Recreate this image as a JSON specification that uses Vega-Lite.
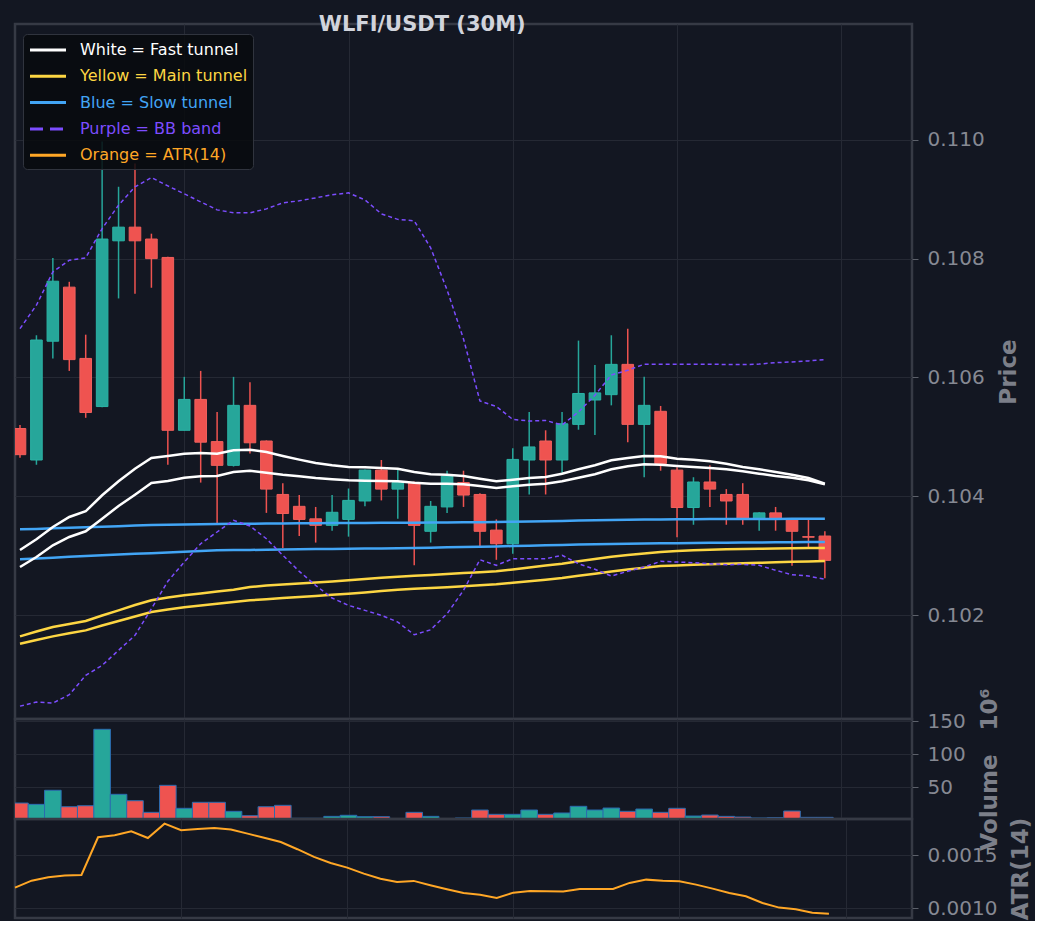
{
  "$schema": "https://vega.github.io/schema/vega-lite/v6.json",
  "background": "#131722",
  "padding": {"left": 9, "top": 13, "right": 0, "bottom": 0},
  "bounds": "flush",
  "spacing": 0,
  "title": {
    "text": "WLFI/USDT (30M)",
    "anchor": "start",
    "dx": 309,
    "offset": -12,
    "fontSize": 21,
    "fontWeight": "bold",
    "color": "#d1d4dc",
    "font": "DejaVu Sans"
  },
  "config": {
    "font": "DejaVu Sans",
    "view": {"stroke": "#363a45", "strokeWidth": 2.5},
    "axis": {
      "gridColor": "#252934",
      "gridWidth": 1,
      "domain": false,
      "labelColor": "#868993",
      "labelFontSize": 20,
      "labelFont": "DejaVu Sans",
      "tickColor": "#5d616b",
      "tickSize": 6,
      "labelPadding": 9,
      "titleColor": "#7c7f89",
      "titleFontSize": 23,
      "titleFontWeight": "bold",
      "titleFont": "DejaVu Sans",
      "titlePadding": 13
    },
    "axisX": {"ticks": false, "labels": false, "grid": true, "title": null}
  },
  "datasets": {
    "k": [
      {"i":0,"o":0.10514,"h":0.1052,"l":0.10465,"c":0.1047,"v":26.2,"atr":0.001194,"wu":0.103095,"wl":0.102809,"yu":0.101641,"yl":0.101517,"bu":0.103443,"bl":0.102938,"bbu":0.106822,"bbl":0.100467},
      {"i":1,"o":0.10461,"h":0.10671,"l":0.10453,"c":0.10663,"v":24.2,"atr":0.00126,"wu":0.103275,"wl":0.102977,"yu":0.101722,"yl":0.101579,"bu":0.10345,"bl":0.102952,"bbu":0.107216,"bbl":0.100535},
      {"i":2,"o":0.10661,"h":0.10801,"l":0.10632,"c":0.10762,"v":45.5,"atr":0.001292,"wu":0.103482,"wl":0.103174,"yu":0.101798,"yl":0.101641,"bu":0.10346,"bl":0.102966,"bbu":0.107777,"bbl":0.100518},
      {"i":3,"o":0.10752,"h":0.10761,"l":0.10611,"c":0.1063,"v":20.6,"atr":0.001308,"wu":0.103651,"wl":0.103314,"yu":0.101848,"yl":0.101692,"bu":0.103468,"bl":0.10298,"bbu":0.107974,"bbl":0.100658},
      {"i":4,"o":0.10632,"h":0.10672,"l":0.10532,"c":0.10541,"v":22.1,"atr":0.001314,"wu":0.103747,"wl":0.10341,"yu":0.101899,"yl":0.101742,"bu":0.103476,"bl":0.102994,"bbu":0.108013,"bbl":0.100984},
      {"i":5,"o":0.10551,"h":0.10997,"l":0.1055,"c":0.10833,"v":137.9,"atr":0.00167,"wu":0.104016,"wl":0.103622,"yu":0.101992,"yl":0.101823,"bu":0.103486,"bl":0.103006,"bbu":0.108506,"bbl":0.101153},
      {"i":6,"o":0.1083,"h":0.10921,"l":0.10733,"c":0.10853,"v":39.4,"atr":0.001689,"wu":0.104252,"wl":0.103836,"yu":0.102079,"yl":0.101899,"bu":0.103496,"bl":0.103018,"bbu":0.1089,"bbl":0.101406},
      {"i":7,"o":0.10853,"h":0.1096,"l":0.10741,"c":0.1083,"v":29.7,"atr":0.001726,"wu":0.104464,"wl":0.104026,"yu":0.102168,"yl":0.101975,"bu":0.103506,"bl":0.10303,"bbu":0.109208,"bbl":0.101658},
      {"i":8,"o":0.10833,"h":0.10842,"l":0.10751,"c":0.108,"v":12.1,"atr":0.001663,"wu":0.104644,"wl":0.104223,"yu":0.102248,"yl":0.102051,"bu":0.103516,"bl":0.103042,"bbu":0.109365,"bbl":0.102106},
      {"i":9,"o":0.10802,"h":0.10803,"l":0.10453,"c":0.10511,"v":53.0,"atr":0.001798,"wu":0.104678,"wl":0.104257,"yu":0.102295,"yl":0.102093,"bu":0.10352,"bl":0.103054,"bbu":0.109225,"bbl":0.102568},
      {"i":10,"o":0.10511,"h":0.10601,"l":0.10511,"c":0.10563,"v":18.2,"atr":0.001736,"wu":0.104717,"wl":0.104312,"yu":0.102332,"yl":0.10213,"bu":0.103525,"bl":0.103066,"bbu":0.109091,"bbl":0.102893},
      {"i":11,"o":0.10563,"h":0.10611,"l":0.10423,"c":0.10491,"v":27.3,"atr":0.001748,"wu":0.104728,"wl":0.104336,"yu":0.102362,"yl":0.10216,"bu":0.10353,"bl":0.103078,"bbu":0.108956,"bbl":0.103201},
      {"i":12,"o":0.10492,"h":0.10542,"l":0.10352,"c":0.10452,"v":27.3,"atr":0.001758,"wu":0.104717,"wl":0.104341,"yu":0.102396,"yl":0.10219,"bu":0.103533,"bl":0.10309,"bbu":0.108821,"bbl":0.103398},
      {"i":13,"o":0.10452,"h":0.10601,"l":0.1045,"c":0.10553,"v":13.6,"atr":0.001742,"wu":0.104774,"wl":0.104409,"yu":0.102426,"yl":0.102219,"bu":0.103536,"bl":0.103093,"bbu":0.108771,"bbl":0.103595},
      {"i":14,"o":0.10553,"h":0.10592,"l":0.10472,"c":0.1049,"v":7.0,"atr":0.001704,"wu":0.104784,"wl":0.10443,"yu":0.102472,"yl":0.102248,"bu":0.103538,"bl":0.103096,"bbu":0.108771,"bbl":0.103499},
      {"i":15,"o":0.10493,"h":0.10494,"l":0.10372,"c":0.10412,"v":20.6,"atr":0.001666,"wu":0.104745,"wl":0.104397,"yu":0.102497,"yl":0.102266,"bu":0.10354,"bl":0.1031,"bbu":0.108838,"bbl":0.103285},
      {"i":16,"o":0.10403,"h":0.10422,"l":0.10313,"c":0.10371,"v":22.7,"atr":0.001625,"wu":0.104678,"wl":0.104363,"yu":0.102514,"yl":0.102286,"bu":0.103542,"bl":0.103103,"bbu":0.108939,"bbl":0.103006},
      {"i":17,"o":0.10383,"h":0.10402,"l":0.10333,"c":0.10361,"v":3.0,"atr":0.001557,"wu":0.104616,"wl":0.104336,"yu":0.102531,"yl":0.102303,"bu":0.103544,"bl":0.103106,"bbu":0.108973,"bbl":0.102736},
      {"i":18,"o":0.10362,"h":0.10382,"l":0.10322,"c":0.10351,"v":3.0,"atr":0.001484,"wu":0.10456,"wl":0.104307,"yu":0.102547,"yl":0.10232,"bu":0.103546,"bl":0.10311,"bbu":0.109023,"bbl":0.1025},
      {"i":19,"o":0.10351,"h":0.10402,"l":0.10342,"c":0.10373,"v":6.0,"atr":0.001427,"wu":0.104521,"wl":0.104285,"yu":0.102564,"yl":0.10234,"bu":0.103548,"bl":0.103113,"bbu":0.109074,"bbl":0.102286},
      {"i":20,"o":0.10361,"h":0.10413,"l":0.10332,"c":0.10393,"v":7.6,"atr":0.001383,"wu":0.104493,"wl":0.104269,"yu":0.102584,"yl":0.102359,"bu":0.10355,"bl":0.103116,"bbu":0.109107,"bbl":0.102163},
      {"i":21,"o":0.10392,"h":0.10445,"l":0.10383,"c":0.10444,"v":5.5,"atr":0.001327,"wu":0.104488,"wl":0.104262,"yu":0.102606,"yl":0.102381,"bu":0.103551,"bl":0.103119,"bbu":0.108989,"bbl":0.102079},
      {"i":22,"o":0.10444,"h":0.10461,"l":0.10393,"c":0.10412,"v":5.5,"atr":0.001279,"wu":0.104476,"wl":0.104257,"yu":0.102627,"yl":0.102404,"bu":0.103552,"bl":0.103122,"bbu":0.108754,"bbl":0.101995},
      {"i":23,"o":0.10412,"h":0.10444,"l":0.10362,"c":0.10423,"v":2.5,"atr":0.001248,"wu":0.104464,"wl":0.104252,"yu":0.102643,"yl":0.102424,"bu":0.103553,"bl":0.103125,"bbu":0.108661,"bbl":0.101882},
      {"i":24,"o":0.10423,"h":0.10425,"l":0.10284,"c":0.10351,"v":12.1,"atr":0.001258,"wu":0.104409,"wl":0.104228,"yu":0.10266,"yl":0.102443,"bu":0.103555,"bl":0.103128,"bbu":0.108636,"bbl":0.101668},
      {"i":25,"o":0.10341,"h":0.10392,"l":0.10322,"c":0.10383,"v":6.0,"atr":0.001217,"wu":0.10437,"wl":0.104211,"yu":0.102674,"yl":0.102455,"bu":0.103557,"bl":0.103134,"bbu":0.108181,"bbl":0.101752},
      {"i":26,"o":0.10382,"h":0.10443,"l":0.10372,"c":0.10434,"v":2.5,"atr":0.001179,"wu":0.104363,"wl":0.104211,"yu":0.102691,"yl":0.102468,"bu":0.103559,"bl":0.10314,"bbu":0.107474,"bbl":0.102022},
      {"i":27,"o":0.10423,"h":0.10443,"l":0.10382,"c":0.10402,"v":3.5,"atr":0.001144,"wu":0.104341,"wl":0.104201,"yu":0.102707,"yl":0.102483,"bu":0.103561,"bl":0.103145,"bbu":0.106648,"bbl":0.102416},
      {"i":28,"o":0.10403,"h":0.10405,"l":0.10315,"c":0.10341,"v":15.6,"atr":0.001128,"wu":0.104296,"wl":0.104173,"yu":0.102719,"yl":0.1025,"bu":0.103564,"bl":0.10315,"bbu":0.105604,"bbl":0.102931},
      {"i":29,"o":0.10343,"h":0.10361,"l":0.10293,"c":0.1032,"v":9.1,"atr":0.001097,"wu":0.104252,"wl":0.104139,"yu":0.102736,"yl":0.102517,"bu":0.103567,"bl":0.103156,"bbu":0.105512,"bbl":0.102837},
      {"i":30,"o":0.1032,"h":0.10481,"l":0.10303,"c":0.10462,"v":9.1,"atr":0.001147,"wu":0.104279,"wl":0.104168,"yu":0.102766,"yl":0.102542,"bu":0.10357,"bl":0.103162,"bbu":0.105293,"bbl":0.102948},
      {"i":31,"o":0.10461,"h":0.10542,"l":0.10403,"c":0.10483,"v":15.6,"atr":0.001163,"wu":0.104307,"wl":0.104195,"yu":0.1028,"yl":0.102569,"bu":0.103575,"bl":0.103168,"bbu":0.105267,"bbl":0.102948},
      {"i":32,"o":0.10493,"h":0.10511,"l":0.10403,"c":0.10461,"v":9.1,"atr":0.00116,"wu":0.104324,"wl":0.104211,"yu":0.102834,"yl":0.102596,"bu":0.10358,"bl":0.103174,"bbu":0.105276,"bbl":0.102948},
      {"i":33,"o":0.10461,"h":0.10542,"l":0.10438,"c":0.10522,"v":11.1,"atr":0.001157,"wu":0.10438,"wl":0.104252,"yu":0.102864,"yl":0.102623,"bu":0.103585,"bl":0.10318,"bbu":0.1052,"bbl":0.103006},
      {"i":34,"o":0.10521,"h":0.10662,"l":0.10512,"c":0.10573,"v":21.2,"atr":0.001182,"wu":0.104454,"wl":0.104312,"yu":0.102904,"yl":0.10266,"bu":0.10359,"bl":0.103186,"bbu":0.105419,"bbl":0.102864},
      {"i":35,"o":0.10562,"h":0.10621,"l":0.10503,"c":0.10574,"v":15.6,"atr":0.001182,"wu":0.104521,"wl":0.10437,"yu":0.102943,"yl":0.102697,"bu":0.103595,"bl":0.103191,"bbu":0.1057,"bbl":0.10277},
      {"i":36,"o":0.10571,"h":0.10671,"l":0.10553,"c":0.10622,"v":18.6,"atr":0.001182,"wu":0.104606,"wl":0.104454,"yu":0.10298,"yl":0.102734,"bu":0.1036,"bl":0.103196,"bbu":0.106042,"bbl":0.102657},
      {"i":37,"o":0.10622,"h":0.10682,"l":0.10491,"c":0.10521,"v":13.6,"atr":0.001239,"wu":0.104644,"wl":0.104504,"yu":0.103011,"yl":0.102765,"bu":0.103605,"bl":0.103201,"bbu":0.106121,"bbl":0.102736},
      {"i":38,"o":0.10521,"h":0.10601,"l":0.10432,"c":0.10553,"v":17.1,"atr":0.00127,"wu":0.104678,"wl":0.104538,"yu":0.103036,"yl":0.102795,"bu":0.103608,"bl":0.103204,"bbu":0.106222,"bbl":0.102809},
      {"i":39,"o":0.10543,"h":0.10552,"l":0.10443,"c":0.10455,"v":12.1,"atr":0.00126,"wu":0.104673,"wl":0.104532,"yu":0.103061,"yl":0.102825,"bu":0.10361,"bl":0.103207,"bbu":0.106222,"bbl":0.102904},
      {"i":40,"o":0.10444,"h":0.10449,"l":0.10331,"c":0.10381,"v":18.2,"atr":0.001255,"wu":0.104632,"wl":0.10451,"yu":0.103078,"yl":0.102835,"bu":0.103612,"bl":0.10321,"bbu":0.106222,"bbl":0.102893},
      {"i":41,"o":0.10381,"h":0.10432,"l":0.10352,"c":0.10424,"v":6.5,"atr":0.001223,"wu":0.104616,"wl":0.104493,"yu":0.10309,"yl":0.102846,"bu":0.103614,"bl":0.103212,"bbu":0.106222,"bbl":0.102881},
      {"i":42,"o":0.10424,"h":0.10452,"l":0.10382,"c":0.10412,"v":8.0,"atr":0.001185,"wu":0.104589,"wl":0.104476,"yu":0.103098,"yl":0.102856,"bu":0.103615,"bl":0.103215,"bbu":0.106222,"bbl":0.102864},
      {"i":43,"o":0.10403,"h":0.10412,"l":0.10352,"c":0.10392,"v":6.0,"atr":0.001144,"wu":0.104548,"wl":0.104454,"yu":0.103107,"yl":0.102864,"bu":0.103616,"bl":0.103218,"bbu":0.106219,"bbl":0.102847},
      {"i":44,"o":0.10403,"h":0.10422,"l":0.10352,"c":0.10362,"v":5.0,"atr":0.001113,"wu":0.104493,"wl":0.10442,"yu":0.103112,"yl":0.102872,"bu":0.103617,"bl":0.10322,"bbu":0.106216,"bbl":0.102854},
      {"i":45,"o":0.10362,"h":0.10373,"l":0.10342,"c":0.10372,"v":3.5,"atr":0.00105,"wu":0.104454,"wl":0.10438,"yu":0.103117,"yl":0.102879,"bu":0.103618,"bl":0.103222,"bbu":0.106225,"bbl":0.102837},
      {"i":46,"o":0.10372,"h":0.10382,"l":0.10342,"c":0.10362,"v":4.0,"atr":0.001006,"wu":0.104409,"wl":0.104341,"yu":0.10312,"yl":0.102888,"bu":0.103619,"bl":0.103224,"bbu":0.106249,"bbl":0.102753},
      {"i":47,"o":0.10362,"h":0.10363,"l":0.10283,"c":0.10341,"v":14.1,"atr":0.000991,"wu":0.104363,"wl":0.104312,"yu":0.103123,"yl":0.102896,"bu":0.10362,"bl":0.103226,"bbu":0.106261,"bbl":0.102679},
      {"i":48,"o":0.10332,"h":0.1036,"l":0.10313,"c":0.10331,"v":4.5,"atr":0.000958,"wu":0.104307,"wl":0.104269,"yu":0.103127,"yl":0.102903,"bu":0.103621,"bl":0.103228,"bbu":0.106278,"bbl":0.102657},
      {"i":49,"o":0.10333,"h":0.10341,"l":0.10262,"c":0.10292,"v":4.5,"atr":0.000949,"wu":0.104211,"wl":0.104201,"yu":0.103128,"yl":0.10291,"bu":0.103622,"bl":0.10323,"bbu":0.1063,"bbl":0.102601}
    ]
  },
  "vconcat": [
    {
      "width": 897,
      "height": 695,
      "data": {"name": "k"},
      "encoding": {
        "x": {
          "field": "i",
          "type": "quantitative",
          "scale": {"domain": [0, 54], "nice": false, "zero": false},
          "axis": {"values": [10, 20, 30, 40, 50]}
        }
      },
      "layer": [
        {
          "mark": {"type": "rule", "strokeWidth": 1.5, "clip": true},
          "encoding": {
            "y": {
              "field": "l",
              "type": "quantitative",
              "scale": {"domain": [0.10025, 0.11195], "nice": false, "zero": false},
              "axis": {
                "orient": "right",
                "values": [0.102, 0.104, 0.106, 0.108, 0.110],
                "format": ".3f",
                "title": "Price",
                "titleAngle": 270,
                "titleBaseline": "top"
              }
            },
            "y2": {"field": "h"},
            "color": {"condition": {"test": "datum.c >= datum.o", "value": "#26a69a"}, "value": "#ef5350"}
          }
        },
        {
          "mark": {"type": "bar", "size": 11.6, "strokeWidth": 1, "clip": true},
          "encoding": {
            "y": {"field": "o", "type": "quantitative"},
            "y2": {"field": "c"},
            "color": {"condition": {"test": "datum.c >= datum.o", "value": "#26a69a"}, "value": "#ef5350"},
            "stroke": {"condition": {"test": "datum.c >= datum.o", "value": "#2bb3a5"}, "value": "#f0605d"}
          }
        },
        {
          "transform": [{"fold": ["bu", "bl"], "as": ["k", "p"]}],
          "mark": {"type": "line", "strokeWidth": 2.5},
          "encoding": {
            "y": {"field": "p", "type": "quantitative"},
            "detail": {"field": "k"},
            "color": {"datum": "Blue = Slow tunnel", "type": "nominal"}
          }
        },
        {
          "transform": [{"fold": ["yu", "yl"], "as": ["k", "p"]}],
          "mark": {"type": "line", "strokeWidth": 2.5},
          "encoding": {
            "y": {"field": "p", "type": "quantitative"},
            "detail": {"field": "k"},
            "color": {"datum": "Yellow = Main tunnel", "type": "nominal"}
          }
        },
        {
          "transform": [{"fold": ["wu", "wl"], "as": ["k", "p"]}],
          "mark": {"type": "line", "strokeWidth": 2.5},
          "encoding": {
            "y": {"field": "p", "type": "quantitative"},
            "detail": {"field": "k"},
            "color": {
              "datum": "White = Fast tunnel",
              "type": "nominal",
              "scale": {
                "domain": ["White = Fast tunnel", "Yellow = Main tunnel", "Blue = Slow tunnel", "Purple = BB band", "Orange = ATR(14)"],
                "range": ["#ffffff", "#fdd643", "#42a5f5", "#7c4dff", "#ffa726"]
              },
              "legend": {
                "title": null,
                "orient": "none",
                "legendX": 8,
                "legendY": 10,
                "fillColor": "rgba(8,10,14,0.85)",
                "strokeColor": "#30343e",
                "cornerRadius": 4,
                "padding": 5.5,
                "rowPadding": 7.3,
                "symbolType": "M-1,0H3",
                "symbolSize": 324,
                "symbolStrokeWidth": 3,
                "labelFontSize": 16,
                "labelFont": "DejaVu Sans",
                "labelOffset": 30.5,
                "labelLimit": 300,
                "encode": {
                  "labels": {"update": {"fill": {"scale": "color", "field": "value"}}},
                  "symbols": {"update": {"strokeDash": {"signal": "datum.value === 'Purple = BB band' ? [13, 7] : [1, 0]"}}}
                }
              }
            }
          }
        },
        {
          "transform": [{"fold": ["bbu", "bbl"], "as": ["k", "p"]}],
          "mark": {"type": "line", "strokeWidth": 1.5, "strokeDash": [4, 3]},
          "encoding": {
            "y": {"field": "p", "type": "quantitative"},
            "detail": {"field": "k"},
            "color": {"datum": "Purple = BB band", "type": "nominal"}
          }
        }
      ]
    },
    {
      "width": 897,
      "height": 100,
      "data": {"name": "k"},
      "mark": {"type": "bar", "size": 16.6, "stroke": "#2b6cb0", "strokeWidth": 1, "clip": true},
      "encoding": {
        "x": {
          "field": "i",
          "type": "quantitative",
          "scale": {"domain": [0, 54], "nice": false, "zero": false},
          "axis": {"values": [10, 20, 30, 40, 50]}
        },
        "y": {
          "field": "v",
          "type": "quantitative",
          "scale": {"domain": [2, 153.5], "nice": false, "zero": false},
          "axis": {
            "orient": "right",
            "values": [50, 100, 150],
            "title": "Volume\u00a0\u00a0\u00a010⁶",
            "titleAngle": 270,
            "titleBaseline": "top"
          }
        },
        "y2": {"datum": 0},
        "color": {"condition": {"test": "datum.c >= datum.o", "value": "#26a69a"}, "value": "#ef5350"}
      }
    },
    {
      "width": 897,
      "height": 99,
      "data": {"name": "k"},
      "mark": {"type": "line", "strokeWidth": 2, "color": "#ffa726"},
      "encoding": {
        "x": {
          "field": "i",
          "type": "quantitative",
          "scale": {"domain": [0, 54], "nice": false, "zero": false},
          "axis": {"values": [10, 20, 30, 40, 50]}
        },
        "y": {
          "field": "atr",
          "type": "quantitative",
          "scale": {"domain": [0.000908, 0.001842], "nice": false, "zero": false},
          "axis": {
            "orient": "right",
            "values": [0.001, 0.0015],
            "format": ".4f",
            "title": "ATR(14)",
            "titleAngle": 270,
            "titleBaseline": "top"
          }
        }
      }
    }
  ]
}
